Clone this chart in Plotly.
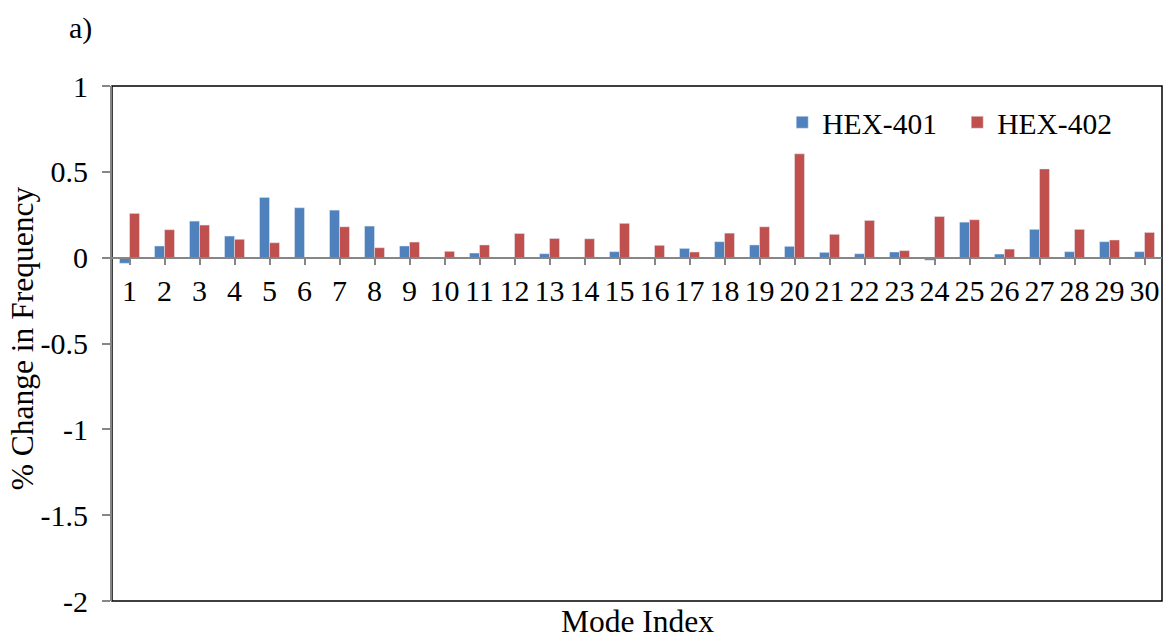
import plotly.graph_objects as go

# Mode indices 1..30 and percent change in natural frequency for each heat exchanger
modes = [str(i) for i in range(1, 31)]
hex401 = [-0.033, 0.068, 0.213, 0.126, 0.351, 0.291, 0.277, 0.184, 0.068, 0.0,
          0.027, 0.0, 0.023, 0.0, 0.035, 0.0, 0.054, 0.093, 0.074, 0.066,
          0.031, 0.023, 0.033, -0.015, 0.207, 0.021, 0.165, 0.035, 0.093, 0.035]
hex402 = [0.258, 0.163, 0.190, 0.107, 0.087, 0.0, 0.180, 0.058, 0.091, 0.037,
          0.074, 0.141, 0.112, 0.110, 0.200, 0.072, 0.033, 0.143, 0.180, 0.605,
          0.136, 0.217, 0.041, 0.240, 0.221, 0.050, 0.517, 0.165, 0.103, 0.147]
y_ticks = [1, 0.5, 0, -0.5, -1, -1.5, -2]
y_ticktext = ["1", "0.5", "0", "-0.5", "-1", "-1.5", "-2"]

FONT = "Liberation Serif, Times New Roman, serif"
AXIS_GRAY = "#868686"

fig = go.Figure()
fig.add_trace(go.Bar(x=modes, y=hex401, name="HEX-401", marker_color="#4F81BD"))
fig.add_trace(go.Bar(x=modes, y=hex402, name="HEX-402", marker_color="#C0504D"))

fig.update_layout(
    width=1166, height=639,
    margin=dict(l=112, r=4, t=86, b=38),
    paper_bgcolor="white", plot_bgcolor="white",
    font=dict(family=FONT, size=30, color="black"),
    barmode="group", bargap=0.43, bargroupgap=0,
    showlegend=True,
    legend=dict(orientation="h", x=0.6383, y=0.929, xanchor="left", yanchor="middle",
                font=dict(family=FONT, size=29.5), bgcolor="rgba(0,0,0,0)",
                entrywidth=130, entrywidthmode="pixels"),
)

# category axis crossing the value axis at zero
fig.update_xaxes(
    type="category", range=[-0.5, 29.5],
    tickmode="linear", dtick=1,
    anchor="free", position=2 / 3, automargin=False,
    showline=True, linecolor=AXIS_GRAY, linewidth=2,
    ticks="outside", ticklen=6, tickwidth=2, tickcolor=AXIS_GRAY,
    showgrid=False, zeroline=False,
    tickfont=dict(family=FONT, size=30),
)
fig.update_yaxes(
    range=[-2, 1], tickvals=y_ticks, ticktext=y_ticktext,
    automargin=False,
    showline=True, linecolor=AXIS_GRAY, linewidth=2,
    ticks="outside", ticklen=8, tickwidth=2, tickcolor=AXIS_GRAY,
    ticklabelstandoff=8,
    showgrid=False, zeroline=False,
    tickfont=dict(family=FONT, size=30),
)

# plot-area frame
fig.add_shape(type="rect", xref="paper", yref="paper", x0=0, y0=0, x1=1, y1=1,
              line=dict(color="black", width=1.5), layer="below")

fig.add_annotation(text="% Change in Frequency", textangle=-90,
                   xref="paper", yref="paper", x=-0.0857, y=0.51,
                   xanchor="center", yanchor="middle", showarrow=False,
                   font=dict(family=FONT, size=31.5))
fig.add_annotation(text="Mode Index", xref="paper", yref="paper", x=0.5, y=-40 / 515,
                   xanchor="center", yanchor="bottom", showarrow=False,
                   font=dict(family=FONT, size=31.5))
fig.add_annotation(text="a)", xref="paper", yref="paper", x=-0.043, y=1.1126,
                   xanchor="left", yanchor="middle", showarrow=False,
                   font=dict(family=FONT, size=30))

fig.write_html("out.html")
